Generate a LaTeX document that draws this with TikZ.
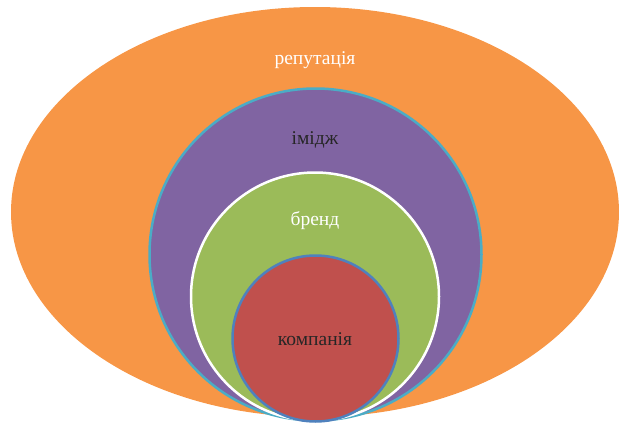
\documentclass[tikz,border=0pt]{standalone}
\usepackage{fontspec}
\setmainfont{Liberation Serif}
\usepackage{tikz}

\definecolor{reporange}{HTML}{F79646}
\definecolor{imgviolet}{HTML}{8064A2}
\definecolor{imgring}{HTML}{4BACC6}
\definecolor{brandgreen}{HTML}{9BBB59}
\definecolor{compred}{HTML}{C0504D}
\definecolor{compring}{HTML}{4F81BD}
\definecolor{darktext}{HTML}{262626}

\tikzset{
  word/.style={anchor=base, font=\fontsize{19.5}{22}\selectfont}
}

\begin{document}
\begin{tikzpicture}[x=1pt, y=-1pt]
        \useasboundingbox (0,0) rectangle (619,423);

        \fill [reporange] (315,212) ellipse [x radius=304, y radius=205];
        \draw [line width=2.5pt, draw=imgring, fill=imgviolet] (315.5,254.5) circle [radius=166];
        \draw [line width=2.5pt, draw=white, fill=brandgreen] (315,296.5) circle [radius=124];
        \draw [line width=2.5pt, draw=compring, fill=compred] (315.5,338.5) circle [radius=83];

        \node[word, text=white] (rep) at (315,64) {репутація};
        \node[word, text=darktext] (img) at (315,144) {імідж};
        \node[word, text=white] (brand) at (315,225) {бренд};
        \node[word, text=darktext] (comp) at (315,345) {компанія};
    \end{tikzpicture}
\end{document}
